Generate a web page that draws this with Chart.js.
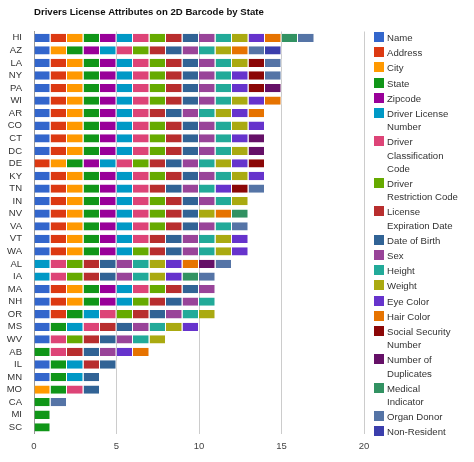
<!DOCTYPE html>
<html>
<head>
<meta charset="utf-8">
<script src="https://cdn.jsdelivr.net/npm/chart.js@4"></script>
<style>
  body { margin: 0; background: #fff; font-family: Arial, "Liberation Sans", sans-serif; }
  #wrap { position: relative; width: 474px; height: 462px; }
  #legend { position: absolute; left: 374px; top: 31px; width: 100px; font-size: 9.6px; color: #333; }
  .item { display: flex; align-items: flex-start; line-height: 13.2px; margin-bottom: 2px; }
  .box { width: 10px; height: 10px; margin-top: 1px; margin-right: 3px; flex: none; }
  .txt { white-space: nowrap; }
</style>
</head>
<body>
<div id="wrap">
  <canvas id="chart" width="474" height="462"></canvas>
  <div id="legend"></div>
</div>
<script>
const states = ["HI", "AZ", "LA", "NY", "PA", "WI", "AR", "CO", "CT", "DC", "DE", "KY", "TN", "IN", "NV",
  "VA", "VT", "WA", "AL", "IA", "MA", "NH", "OR", "MS", "WV", "AB", "IL", "MN", "MO", "CA", "MI", "SC"];

const attributes = ["Name", "Address", "City", "State", "Zipcode", "Driver License Number",
  "Driver Classification Code", "Driver Restriction Code", "License Expiration Date", "Date of Birth",
  "Sex", "Height", "Weight", "Eye Color", "Hair Color", "Social Security Number", "Number of Duplicates",
  "Medical Indicator", "Organ Donor", "Non-Resident"];

// legend text as wrapped in the picture
const legendText = ["Name", "Address", "City", "State", "Zipcode", "Driver License<br>Number",
  "Driver<br>Classification<br>Code", "Driver<br>Restriction Code", "License<br>Expiration Date", "Date of Birth",
  "Sex", "Height", "Weight", "Eye Color", "Hair Color", "Social Security<br>Number", "Number of<br>Duplicates",
  "Medical<br>Indicator", "Organ Donor", "Non-Resident"];

const colors = ["#3366cc", "#dc3912", "#ff9900", "#109618", "#990099", "#0099c6", "#dd4477", "#66aa00",
  "#b82e2e", "#316395", "#994499", "#22aa99", "#aaaa11", "#6633cc", "#e67300", "#8b0707", "#651067",
  "#329262", "#5574a6", "#3b3eac"];

// one row per state, one column per attribute (1 = on the barcode)
const presence = [
  [1,1,1,1,1,1,1,1,1,1,1,1,1,1,1,0,0,1,1,0], // HI
  [1,0,1,1,1,1,1,1,1,1,1,1,1,0,1,0,0,0,1,1], // AZ
  [1,1,1,1,1,1,1,1,1,1,1,1,1,0,0,1,0,0,1,0], // LA
  [1,1,1,1,1,1,1,1,1,1,1,1,0,1,0,1,0,0,1,0], // NY
  [1,1,1,1,1,1,1,1,1,1,1,1,0,1,0,1,1,0,0,0], // PA
  [1,1,1,1,1,1,1,1,1,1,1,1,1,1,1,0,0,0,0,0], // WI
  [1,1,1,1,1,1,1,0,1,1,1,1,1,1,1,0,0,0,0,0], // AR
  [1,1,1,1,1,1,1,1,1,1,1,1,1,1,0,0,0,0,0,0], // CO
  [1,1,1,1,1,1,1,1,1,1,1,1,0,1,0,0,1,0,0,0], // CT
  [1,1,1,1,1,1,1,1,1,1,1,1,1,0,0,0,1,0,0,0], // DC
  [0,1,1,1,1,1,1,1,1,1,1,1,1,1,0,1,0,0,0,0], // DE
  [1,1,1,1,1,1,1,1,1,1,1,1,1,1,0,0,0,0,0,0], // KY
  [1,1,1,1,1,1,1,0,1,1,1,1,0,1,0,1,0,0,1,0], // TN
  [1,1,1,1,1,1,1,1,1,1,1,1,1,0,0,0,0,0,0,0], // IN
  [1,1,1,1,1,1,1,1,1,1,0,0,1,0,1,0,0,1,0,0], // NV
  [1,1,1,1,1,1,1,1,1,1,1,1,0,0,0,0,0,0,1,0], // VA
  [1,1,1,1,1,1,1,0,1,1,1,1,1,1,0,0,0,0,0,0], // VT
  [1,1,1,1,1,1,0,1,1,1,1,1,1,1,0,0,0,0,0,0], // WA
  [0,0,0,0,0,1,1,1,1,1,1,1,1,1,1,0,1,0,1,0], // AL
  [0,0,0,0,0,1,1,1,1,1,1,1,1,1,0,0,0,1,1,0], // IA
  [1,1,1,1,1,1,1,1,1,1,1,0,0,0,0,0,0,0,0,0], // MA
  [1,1,1,1,1,1,0,1,1,1,1,1,0,0,0,0,0,0,0,0], // NH
  [1,1,0,1,0,1,1,1,1,1,1,1,1,0,0,0,0,0,0,0], // OR
  [1,0,0,1,0,1,1,0,1,1,1,1,1,1,0,0,0,0,0,0], // MS
  [1,0,0,0,0,0,1,1,1,1,1,1,1,0,0,0,0,0,0,0], // WV
  [0,0,0,1,0,0,1,0,1,1,1,0,0,1,1,0,0,0,0,0], // AB
  [1,0,0,1,0,1,0,0,1,1,0,0,0,0,0,0,0,0,0,0], // IL
  [1,0,0,1,0,1,0,0,0,1,0,0,0,0,0,0,0,0,0,0], // MN
  [0,0,1,1,0,0,1,0,0,1,0,0,0,0,0,0,0,0,0,0], // MO
  [0,0,0,1,0,0,0,0,0,0,0,0,0,0,0,0,0,0,1,0], // CA
  [0,0,0,1,0,0,0,0,0,0,0,0,0,0,0,0,0,0,0,0], // MI
  [0,0,0,1,0,0,0,0,0,0,0,0,0,0,0,0,0,0,0,0]  // SC
];

const xTicks = [0, 5, 10, 15, 20];

const font = "Arial, 'Liberation Sans', sans-serif";

const datasets = attributes.map((name, i) => ({
  label: name,
  data: presence.map((row) => (row[i] ? 1 : null)),
  backgroundColor: colors[i],
  borderColor: "#fff",
  borderWidth: { top: 0, right: 1, bottom: 0, left: 0 },
  borderSkipped: false,
  barPercentage: 1,
  categoryPercentage: 0.66
}));

new Chart(document.getElementById("chart"), {
  type: "bar",
  data: { labels: states, datasets: datasets },
  options: {
    indexAxis: "y",
    responsive: false,
    animation: false,
    layout: { padding: { left: 0, right: 110, top: 0, bottom: 3 } },
    plugins: {
      legend: { display: false },
      tooltip: { enabled: false },
      title: {
        display: true,
        text: "Drivers License Attributes on 2D Barcode by State",
        align: "start",
        fullSize: false,
        color: "#111",
        font: { family: font, size: 9.6, weight: "bold" },
        padding: { top: 7, bottom: 13 }
      }
    },
    scales: {
      x: {
        stacked: true,
        min: 0,
        max: 20,
        afterBuildTicks: (axis) => { axis.ticks = xTicks.map((v) => ({ value: v })); },
        grid: { color: "#cccccc", drawTicks: false },
        border: { display: false },
        ticks: { color: "#444", padding: 7, font: { family: font, size: 9.5 } }
      },
      y: {
        stacked: true,
        afterFit: (axis) => { axis.width = 34; },
        grid: { display: false, drawTicks: false },
        border: { display: true, color: "#999" },
        ticks: { color: "#333", padding: 12, autoSkip: false, font: { family: font, size: 9.5 } }
      }
    }
  }
});

const legend = document.getElementById("legend");
legendText.forEach((text, i) => {
  legend.innerHTML += `<div class="item"><span class="box" style="background:${colors[i]}"></span><span class="txt">${text}</span></div>`;
});
</script>
</body>
</html>
